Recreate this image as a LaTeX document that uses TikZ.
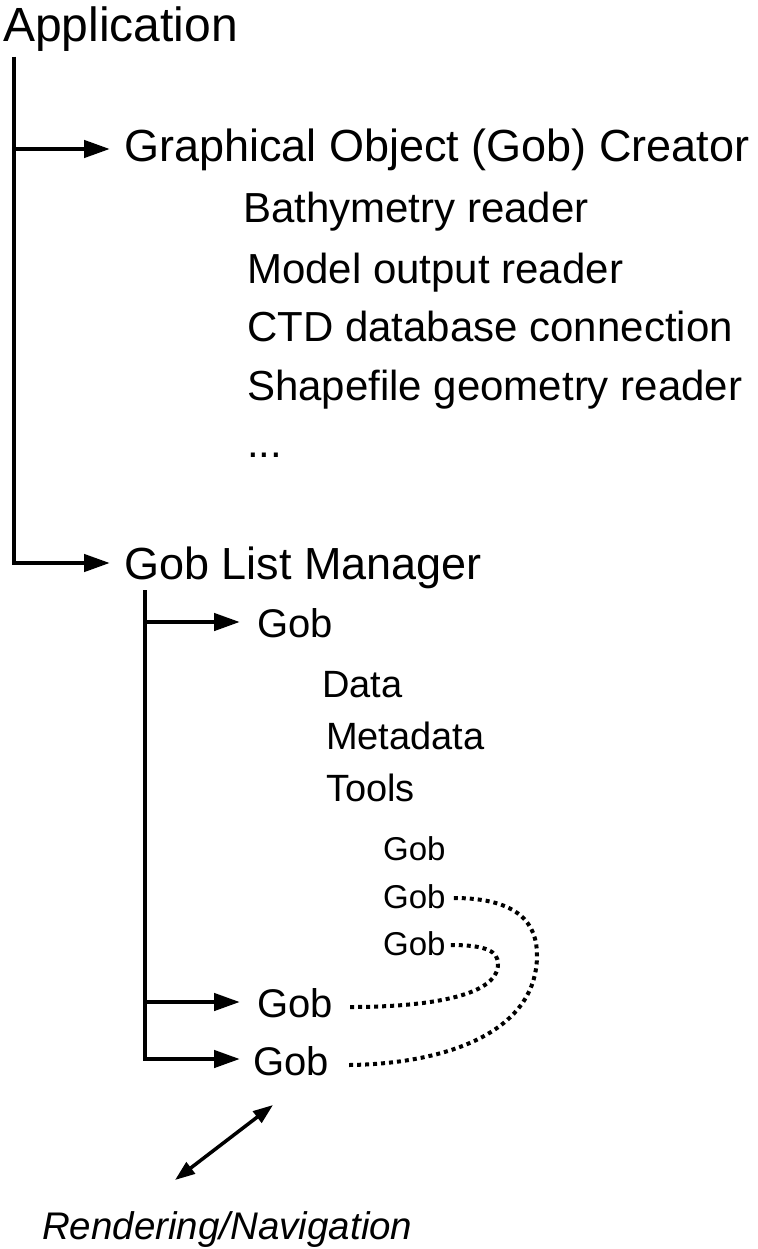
\documentclass[tikz,border=0pt]{standalone}
\usepackage{fontspec}
\setmainfont{Liberation Sans}
\usetikzlibrary{arrows.meta,calc}
\begin{document}
\begin{tikzpicture}[x=1pt,y=-1pt,
  txt/.style={anchor=base west, inner sep=0pt},
  big/.style={txt, font=\fontsize{48}{56}\selectfont},
  head/.style={txt, font=\fontsize{45}{52}\selectfont},
  item/.style={txt, font=\fontsize{42}{48}\selectfont},
  gobf/.style={txt, font=\fontsize{40}{46}\selectfont},
  sub/.style={txt, font=\fontsize{38}{44}\selectfont},
  small/.style={txt, font=\fontsize{33}{38}\selectfont},
  arr/.style={line width=4.5pt, -{Triangle[length=26pt,width=17pt]}},
  darr/.style={line width=3.5pt, {Triangle[length=20pt,width=14pt]}-{Triangle[length=20pt,width=14pt]}},
  dotline/.style={line width=4pt, dash pattern=on 4pt off 4pt}]
\useasboundingbox (0,0) rectangle (757,1249);

\node[big] (app) at (3,42) {Application};
\node[head] (gc) at (124,162) {Graphical Object (Gob) Creator};
\node[item] (r1) at (243,223) {Bathymetry reader};
\node[item] (r2) at (247,283) {Model output reader};
\node[item] (r3) at (247,341) {CTD database connection};
\node[item] (r4) at (247,400) {Shapefile geometry reader};
\node[item] (r5) at (247,457) {...};
\node[head] (glm) at (124,579) {Gob List Manager};

\node[gobf] (g1) at (257,637) {Gob};
\node[sub] (d1) at (322,697) {Data};
\node[sub] (d2) at (326,749) {Metadata};
\node[sub] (d3) at (326,801) {Tools};
\node[small] (s1) at (383,860) {Gob};
\node[small] (s2) at (383,908) {Gob};
\node[small] (s3) at (383,955) {Gob};
\node[gobf] (g3) at (257,1017) {Gob};
\node[gobf] (g4) at (253,1075) {Gob};
\node[txt, font=\fontsize{38.5}{44}\selectfont\itshape] (rn) at (42,1239) {Rendering/Navigation};

\coordinate (t1) at (14,57);
\coordinate (t2) at (145,590);
\coordinate (na1) at (175,1180);
\coordinate (na2) at (273,1105);

\draw[arr] (t1) |- ($(gc.base west)+(-14,-13)$);
\draw[arr] (t1) |- ($(glm.base west)+(-14,-16)$);
\draw[arr] (t2) |- ($(g1.base west)+(-17,-15)$);
\draw[arr] (t2) |- ($(g3.base west)+(-17,-15)$);
\draw[arr] (t2) |- ($(g4.base west)+(-13,-16)$);

\draw[dotline] ($(s2.base east)+(8,-10)$) .. controls (520,898) and (537,925) .. (537,955)
  .. controls (537,1035) and (440,1064) .. ($(g4.base east)+(20,-10)$);
\draw[dotline] ($(s3.base east)+(5,-10)$) .. controls (488,945) and (498,952) .. (498,964)
  .. controls (498,998) and (420,1007) .. ($(g3.base east)+(17,-10)$);

\draw[darr] (na1) -- (na2);
\end{tikzpicture}
\end{document}
